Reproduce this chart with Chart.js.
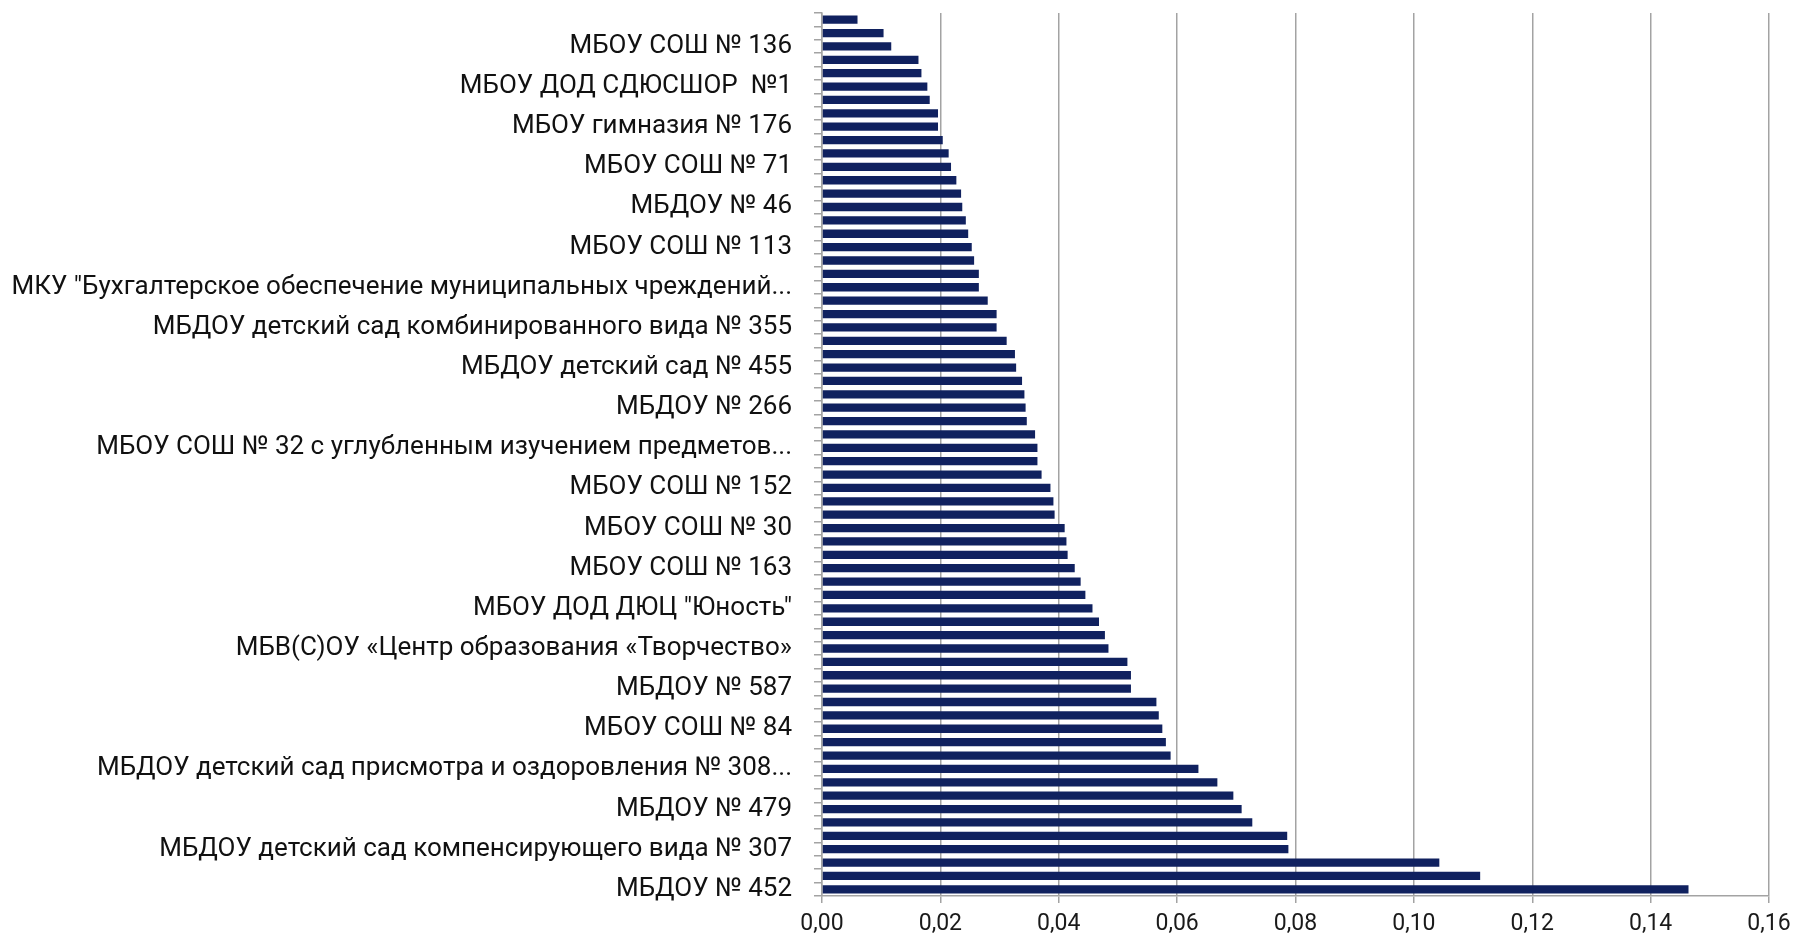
<!DOCTYPE html>
<html>
<head>
<meta charset="utf-8">
<script src="https://cdn.jsdelivr.net/npm/chart.js@4.4.1/dist/chart.umd.min.js"></script>
<style>
  html, body { margin: 0; padding: 0; background: #fff; }
  canvas { display: block; }
</style>
</head>
<body>
<canvas id="myChart" width="1798" height="942"></canvas>
<script>
// names that are printed on the axis (every third category, top to bottom)
const shownNames = [
    "МБОУ СОШ № 136",
    "МБОУ ДОД СДЮСШОР  №1",
    "МБОУ гимназия № 176",
    "МБОУ СОШ № 71",
    "МБДОУ № 46",
    "МБОУ СОШ № 113",
    "МКУ \"Бухгалтерское обеспечение муниципальных чреждений...",
    "МБДОУ детский сад комбинированного вида № 355",
    "МБДОУ детский сад № 455",
    "МБДОУ № 266",
    "МБОУ СОШ № 32 с углубленным изучением предметов...",
    "МБОУ СОШ № 152",
    "МБОУ СОШ № 30",
    "МБОУ СОШ № 163",
    "МБОУ ДОД ДЮЦ \"Юность\"",
    "МБВ(С)ОУ «Центр образования «Творчество»",
    "МБДОУ № 587",
    "МБОУ СОШ № 84",
    "МБДОУ детский сад присмотра и оздоровления № 308...",
    "МБДОУ № 479",
    "МБДОУ детский сад компенсирующего вида № 307",
    "МБДОУ № 452"
];

// bar values, top to bottom
const values = [
    0.0060, 0.0104, 0.0117, 0.0163, 0.0168, 0.0178, 0.0182, 0.0196, 0.0196, 0.0204,
    0.0214, 0.0218, 0.0227, 0.0235, 0.0237, 0.0243, 0.0247, 0.0253, 0.0257, 0.0265,
    0.0265, 0.0280, 0.0295, 0.0295, 0.0312, 0.0326, 0.0328, 0.0338, 0.0342, 0.0344,
    0.0346, 0.0360, 0.0364, 0.0364, 0.0371, 0.0386, 0.0391, 0.0393, 0.0410, 0.0413,
    0.0415, 0.0427, 0.0437, 0.0445, 0.0457, 0.0468, 0.0478, 0.0484, 0.0516, 0.0522,
    0.0522, 0.0565, 0.0569, 0.0575, 0.0581, 0.0589, 0.0636, 0.0668, 0.0695, 0.0709,
    0.0727, 0.0786, 0.0788, 0.1043, 0.1112, 0.1464
];

const xTicks = [0, 0.02, 0.04, 0.06, 0.08, 0.10, 0.12, 0.14, 0.16];

// category list: a name on every third bar, the rest unreadable in the source
const categories = values.map((v, i) => (i % 3 === 2 ? shownNames[(i - 2) / 3] : ""));

const ctx = document.getElementById("myChart").getContext("2d");
const myChart = new Chart(ctx, {
    type: "bar",
    data: {
        labels: categories,
        datasets: [
            {
                data: values,
                backgroundColor: "#10215f",
                borderWidth: 0,
                barPercentage: 0.62,
                categoryPercentage: 1.0
            }
        ]
    },
    options: {
        indexAxis: "y",
        responsive: false,
        animation: false,
        devicePixelRatio: 1,
        layout: { padding: { left: 0, right: 29, top: 13, bottom: 0 } },
        plugins: {
            legend: { display: false },
            tooltip: { enabled: false }
        },
        scales: {
            x: {
                min: 0,
                max: 0.16,
                afterBuildTicks: axis => { axis.ticks = xTicks.map(v => ({ value: v })); },
                afterFit: axis => { axis.height = 46; },
                grid: { color: "#a3a3a3", lineWidth: 1.5, tickLength: 7, drawTicks: true },
                border: { color: "#a3a3a3", width: 1.5 },
                ticks: {
                    color: "#1a1a1a",
                    font: { family: "Roboto", size: 23 },
                    padding: 7,
                    callback: v => v.toFixed(2).replace(".", ",")
                }
            },
            y: {
                afterFit: axis => {
                    axis.width = 822;
                    axis.paddingTop = 0;
                    axis.paddingBottom = 0;
                },
                grid: { drawOnChartArea: false, color: "#a3a3a3", lineWidth: 1.5, tickLength: 8, offset: true },
                border: { color: "#a3a3a3", width: 1.5 },
                ticks: {
                    autoSkip: false,
                    color: "#111",
                    font: { family: "Roboto", size: 26 },
                    padding: 22
                }
            }
        }
    }
});
</script>
</body>
</html>
